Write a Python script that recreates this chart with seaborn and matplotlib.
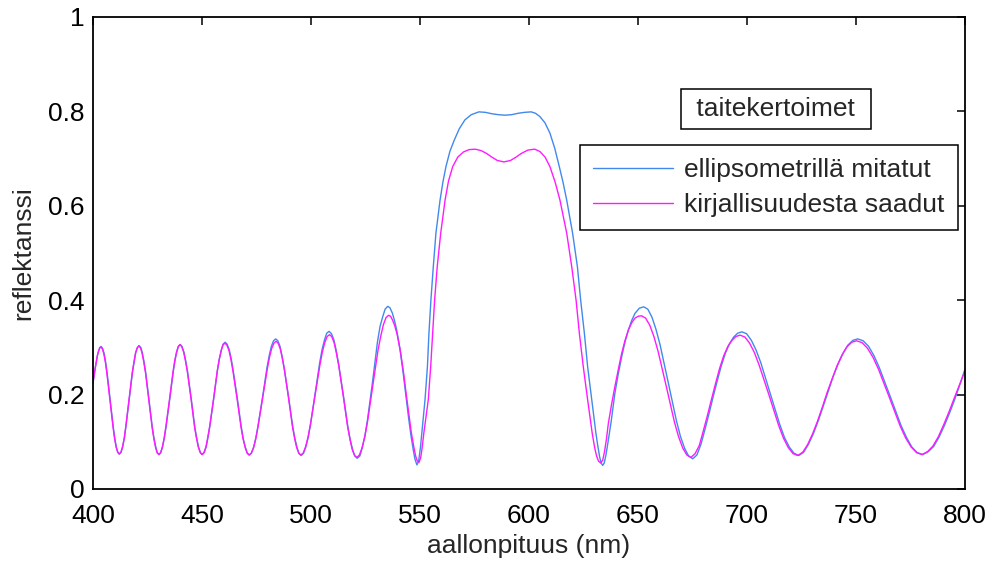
import numpy as np
import pandas as pd
import matplotlib
matplotlib.use('Agg')
import matplotlib.pyplot as plt
import seaborn as sns


# Reflektanssi, ellipsometrillä mitatut taitekertoimet (sininen)
wl_meas = [
	400.0, 401.0, 402.0, 402.6, 403.2,
	403.7, 404.4, 405.1, 405.8, 406.5, 407.9, 409.3, 410.0, 410.7, 411.4,
	412.1, 412.9, 413.6, 414.4, 415.1, 416.6, 418.1, 418.9, 419.6, 420.4,
	421.1, 421.9, 422.6, 423.4, 424.2, 425.7, 427.2, 428.0, 428.8, 429.5,
	430.3, 431.1, 431.9, 432.7, 433.5, 435.2, 436.8, 437.6, 438.4, 439.2,
	440.0, 440.8, 441.7, 442.5, 443.4, 445.1, 446.7, 447.6, 448.4, 449.3,
	450.1, 451.0, 451.9, 452.7, 453.6, 455.4, 457.1, 458.0, 458.9, 459.7,
	460.6, 461.5, 462.5, 463.4, 464.3, 466.2, 468.0, 468.9, 469.9, 470.8,
	471.7, 472.7, 473.7, 474.7, 475.7, 477.8, 479.8, 480.8, 481.8, 482.8,
	483.8, 484.8, 485.8, 486.7, 487.7, 489.7, 491.6, 492.6, 493.6, 494.5,
	495.5, 496.6, 497.6, 498.7, 499.8, 501.9, 504.0, 505.1, 506.2, 507.2,
	508.3, 509.4, 510.5, 511.5, 512.6, 514.8, 516.9, 518.0, 519.1, 520.1,
	521.2, 522.4, 523.5, 524.7, 525.9, 528.2, 530.5, 531.7, 532.9, 534.0,
	535.2, 536.2, 537.3, 538.3, 539.3, 540.8, 542.3, 543.5, 544.7, 545.8,
	546.9, 547.7, 548.6, 549.4, 550.2, 551.2, 552.3, 553.4, 554.1, 555.0,
	556.1, 557.3, 559.2, 560.5, 561.9, 563.7, 565.7, 568.0, 570.6, 573.5,
	577.0, 580.0, 583.0, 586.0, 589.0, 592.0, 595.0, 598.0, 601.0, 603.0,
	605.0, 607.3, 609.6, 611.8, 613.9, 615.6, 617.3, 620.0, 622.2, 623.7,
	625.4, 626.9, 628.8, 630.7, 631.6, 632.4, 633.1, 633.8, 634.5, 635.3,
	636.2, 637.6, 639.4, 641.0, 642.5, 644.0, 645.6, 647.1, 648.6, 650.6,
	652.6, 654.5, 656.4, 658.2, 660.1, 663.9, 667.6, 669.5, 671.4, 673.2,
	675.1, 677.0, 678.9, 680.7, 682.6, 684.5, 686.4, 688.2, 690.1, 692.0, 693.9, 695.7,
	697.6, 699.8, 702.0, 704.1, 706.3, 710.7, 715.0, 717.2, 719.4, 721.5,
	723.7, 726.0, 728.2, 730.5, 732.7, 735.0, 737.3, 739.5, 741.8, 744.1, 746.3, 748.6,
	750.8, 753.3, 755.8, 758.3, 760.7, 765.7, 770.7, 773.2, 775.6, 778.1,
	780.6, 783.1, 785.6, 788.1, 790.6, 793.0, 795.3, 797.7, 800.0,
]
refl_meas = [
	0.225, 0.255, 0.282, 0.293, 0.300,
	0.302, 0.298, 0.287, 0.269, 0.245, 0.188, 0.131, 0.107, 0.089, 0.078,
	0.074, 0.078, 0.089, 0.108, 0.132, 0.189, 0.247, 0.270, 0.289, 0.300,
	0.304, 0.300, 0.289, 0.270, 0.246, 0.189, 0.131, 0.107, 0.089, 0.077,
	0.073, 0.077, 0.089, 0.107, 0.131, 0.190, 0.248, 0.272, 0.290, 0.302,
	0.306, 0.302, 0.290, 0.272, 0.248, 0.190, 0.131, 0.107, 0.089, 0.077,
	0.073, 0.077, 0.089, 0.108, 0.133, 0.192, 0.252, 0.276, 0.295, 0.307,
	0.311, 0.307, 0.295, 0.276, 0.251, 0.192, 0.132, 0.107, 0.088, 0.076,
	0.072, 0.076, 0.089, 0.108, 0.134, 0.195, 0.257, 0.282, 0.302, 0.314,
	0.318, 0.314, 0.302, 0.282, 0.256, 0.195, 0.133, 0.107, 0.088, 0.075,
	0.071, 0.076, 0.089, 0.109, 0.137, 0.203, 0.268, 0.296, 0.316, 0.330,
	0.334, 0.329, 0.316, 0.295, 0.267, 0.200, 0.132, 0.104, 0.083, 0.070,
	0.065, 0.070, 0.087, 0.112, 0.146, 0.226, 0.312, 0.345, 0.365, 0.381,
	0.387, 0.384, 0.373, 0.357, 0.337, 0.297, 0.245, 0.198, 0.153, 0.115,
	0.083, 0.063, 0.051, 0.060, 0.088, 0.135, 0.189, 0.259, 0.330, 0.400,
	0.471, 0.542, 0.612, 0.650, 0.683, 0.715, 0.739, 0.763, 0.782, 0.793,
	0.799, 0.798, 0.795, 0.793, 0.792, 0.793, 0.796, 0.798, 0.799, 0.796,
	0.789, 0.776, 0.754, 0.722, 0.683, 0.650, 0.612, 0.542, 0.471, 0.400,
	0.330, 0.259, 0.189, 0.118, 0.090, 0.068, 0.055, 0.050, 0.055, 0.072,
	0.098, 0.140, 0.203, 0.245, 0.280, 0.311, 0.337, 0.357, 0.372, 0.383,
	0.386, 0.381, 0.364, 0.339, 0.306, 0.225, 0.145, 0.111, 0.086, 0.070,
	0.064, 0.072, 0.095, 0.126, 0.160, 0.196, 0.230, 0.261, 0.288, 0.308, 0.322, 0.330,
	0.333, 0.329, 0.315, 0.295, 0.268, 0.202, 0.137, 0.109, 0.089, 0.076,
	0.071, 0.078, 0.095, 0.118, 0.145, 0.176, 0.208, 0.238, 0.265, 0.288, 0.305, 0.315,
	0.318, 0.314, 0.302, 0.282, 0.257, 0.196, 0.134, 0.109, 0.089, 0.077,
	0.073, 0.079, 0.090, 0.110, 0.135, 0.162, 0.190, 0.222, 0.254,
]

# Reflektanssi, kirjallisuudesta saadut taitekertoimet (magenta)
wl_lit = [
	400.0, 401.0, 402.0, 402.6, 403.1,
	403.6, 404.3, 405.0, 405.7, 406.4, 407.8, 409.2, 409.9, 410.6, 411.3,
	412.0, 412.8, 413.5, 414.3, 415.0, 416.5, 418.0, 418.8, 419.5, 420.3,
	421.0, 421.8, 422.5, 423.3, 424.1, 425.6, 427.1, 427.9, 428.7, 429.4,
	430.2, 431.0, 431.8, 432.6, 433.4, 435.1, 436.7, 437.5, 438.3, 439.1,
	439.9, 440.7, 441.6, 442.4, 443.3, 445.0, 446.6, 447.5, 448.3, 449.2,
	450.0, 450.9, 451.8, 452.6, 453.5, 455.3, 457.0, 457.9, 458.8, 459.6,
	460.5, 461.4, 462.4, 463.3, 464.2, 466.1, 467.9, 468.8, 469.8, 470.7,
	471.6, 472.6, 473.7, 474.7, 475.7, 477.8, 479.9, 480.9, 481.9, 483.0,
	484.0, 484.9, 485.9, 486.8, 487.8, 489.7, 491.5, 492.5, 493.4, 494.4,
	495.3, 496.4, 497.5, 498.6, 499.7, 501.9, 504.1, 505.2, 506.3, 507.4,
	508.5, 509.5, 510.6, 511.6, 512.7, 514.8, 516.8, 517.9, 518.9, 520.0,
	521.0, 522.2, 523.4, 524.7, 525.9, 528.3, 530.7, 532.0, 533.2, 534.4,
	535.6, 536.5, 537.4, 538.4, 539.5, 541.0, 542.5, 543.7, 544.9, 546.0,
	547.2, 548.0, 548.7, 549.5, 550.3, 551.0, 551.8, 552.8, 553.8, 554.9,
	555.8, 556.7, 557.9, 559.5, 561.5, 563.1, 565.0, 567.3, 569.9, 572.5,
	575.3, 578.0, 580.5, 583.0, 585.5, 588.5, 591.5, 594.0, 596.5, 599.5,
	602.6, 605.0, 607.4, 609.6, 612.0, 614.2, 617.3, 619.6, 621.6, 623.1,
	624.9, 626.9, 629.0, 630.1, 631.0, 631.9, 632.9, 633.8, 634.6, 635.5,
	636.4, 637.9, 639.4, 641.0, 642.5, 644.0, 645.6, 647.1, 648.6, 650.1,
	651.6, 653.5, 655.4, 657.3, 659.2, 663.0, 666.7, 668.6, 670.5, 672.4,
	674.3, 676.2, 678.1, 679.9, 681.8, 683.7, 685.6, 687.4, 689.3, 691.2, 693.1, 694.9,
	696.8, 699.0, 701.2, 703.4, 705.6, 710.1, 714.5, 716.7, 718.9, 721.1,
	723.3, 725.6, 727.8, 730.1, 732.3, 734.6, 736.8, 739.1, 741.3, 743.6, 745.8, 748.1,
	750.3, 752.8, 755.3, 757.8, 760.3, 765.3, 770.3, 772.8, 775.3, 777.8,
	780.3, 782.8, 785.3, 787.8, 790.3, 792.7, 795.1, 797.6, 800.0,
]
refl_lit = [
	0.225, 0.256, 0.283, 0.293, 0.299,
	0.301, 0.297, 0.286, 0.268, 0.244, 0.188, 0.131, 0.107, 0.089, 0.078,
	0.074, 0.078, 0.089, 0.107, 0.131, 0.189, 0.246, 0.270, 0.288, 0.299,
	0.303, 0.299, 0.288, 0.269, 0.246, 0.188, 0.131, 0.107, 0.088, 0.077,
	0.073, 0.077, 0.089, 0.107, 0.131, 0.190, 0.248, 0.272, 0.290, 0.302,
	0.306, 0.302, 0.290, 0.272, 0.248, 0.190, 0.131, 0.107, 0.089, 0.077,
	0.073, 0.077, 0.089, 0.108, 0.132, 0.191, 0.250, 0.275, 0.293, 0.305,
	0.309, 0.305, 0.293, 0.274, 0.250, 0.191, 0.131, 0.107, 0.088, 0.076,
	0.072, 0.076, 0.088, 0.107, 0.132, 0.193, 0.253, 0.278, 0.297, 0.309,
	0.313, 0.309, 0.297, 0.278, 0.253, 0.193, 0.132, 0.107, 0.088, 0.076,
	0.072, 0.076, 0.089, 0.109, 0.136, 0.200, 0.263, 0.290, 0.310, 0.323,
	0.327, 0.323, 0.310, 0.289, 0.262, 0.197, 0.132, 0.105, 0.084, 0.071,
	0.067, 0.072, 0.087, 0.111, 0.142, 0.218, 0.293, 0.324, 0.348, 0.363,
	0.368, 0.366, 0.358, 0.346, 0.328, 0.292, 0.245, 0.200, 0.158, 0.120,
	0.088, 0.070, 0.060, 0.056, 0.066, 0.088, 0.120, 0.155, 0.189, 0.259,
	0.330, 0.400, 0.471, 0.542, 0.612, 0.653, 0.683, 0.703, 0.714, 0.719,
	0.720, 0.717, 0.711, 0.703, 0.696, 0.693, 0.696, 0.703, 0.711, 0.718,
	0.720, 0.715, 0.703, 0.683, 0.650, 0.612, 0.542, 0.471, 0.400, 0.330,
	0.259, 0.189, 0.118, 0.088, 0.070, 0.059, 0.055, 0.061, 0.078, 0.105,
	0.139, 0.180, 0.217, 0.254, 0.287, 0.314, 0.337, 0.352, 0.362, 0.366,
	0.367, 0.362, 0.347, 0.323, 0.292, 0.217, 0.142, 0.111, 0.087, 0.072,
	0.067, 0.075, 0.092, 0.122, 0.155, 0.190, 0.224, 0.255, 0.282, 0.302, 0.315, 0.323,
	0.326, 0.322, 0.309, 0.289, 0.262, 0.199, 0.135, 0.108, 0.088, 0.075,
	0.071, 0.078, 0.094, 0.117, 0.143, 0.174, 0.205, 0.234, 0.261, 0.284, 0.301, 0.311,
	0.314, 0.310, 0.298, 0.279, 0.254, 0.194, 0.133, 0.108, 0.089, 0.077,
	0.073, 0.079, 0.091, 0.111, 0.137, 0.164, 0.193, 0.222, 0.250,
]

series_names = ['ellipsometrillä mitatut', 'kirjallisuudesta saadut']
legend_title = 'taitekertoimet'
x_ticks = [400, 450, 500, 550, 600, 650, 700, 750, 800]
y_ticks = [0, 0.2, 0.4, 0.6, 0.8, 1]
y_ticklabels = ['0', '0.2', '0.4', '0.6', '0.8', '1']


if __name__ == '__main__':

	assert len(wl_meas) == len(refl_meas)
	assert len(wl_lit) == len(refl_lit)

	sns.set_style('white')
	plt.rcParams['font.family'] = ['Liberation Sans', 'DejaVu Sans']
	fs = 19

	fig = plt.figure(figsize=(9.93, 5.64), dpi=100)
	ax = fig.add_axes([93 / 993, 75 / 564, 872 / 993, 472 / 564])

	sns.lineplot(
		x=wl_meas, y=refl_meas, sort=False, estimator=None,
		color='#4189ec', linewidth=1.0, label=series_names[0], ax=ax
	)
	sns.lineplot(
		x=wl_lit, y=refl_lit, sort=False, estimator=None,
		color='#ff1aff', linewidth=1.0, label=series_names[1], ax=ax
	)

	ax.set_xlim(400, 800)
	ax.set_ylim(0, 1)
	ax.set_xticks(x_ticks)
	ax.set_yticks(y_ticks)
	ax.set_yticklabels(y_ticklabels)
	ax.tick_params(
		direction='in', length=6, width=1.1, colors='black',
		top=True, right=True, labelsize=fs
	)
	ax.tick_params(axis='x', pad=11)
	ax.tick_params(axis='y', pad=6)
	for s in ax.spines.values():
		s.set_visible(True)
		s.set_color('black')
		s.set_linewidth(1.3)

	ax.set_xlabel('aallonpituus (nm)', fontsize=fs, labelpad=4)
	ax.set_ylabel('reflektanssi', fontsize=fs, labelpad=9)

	leg = ax.legend(
		loc='upper right', bbox_to_anchor=(0.992, 0.729), borderaxespad=0,
		fontsize=fs, frameon=True, fancybox=False, framealpha=1,
		edgecolor='black', handlelength=3.0, handletextpad=0.45,
		labelspacing=0.42, borderpad=0.5
	)
	leg.get_frame().set_linewidth(1.1)

	ax.text(
		0.7833, 0.8057, ' ' + legend_title + ' ', transform=ax.transAxes,
		ha='center', va='center', fontsize=fs,
		bbox=dict(boxstyle='square,pad=0.31', fc='white', ec='black', lw=1.1)
	)

	plt.savefig('out.png', dpi=100)
	plt.close()
